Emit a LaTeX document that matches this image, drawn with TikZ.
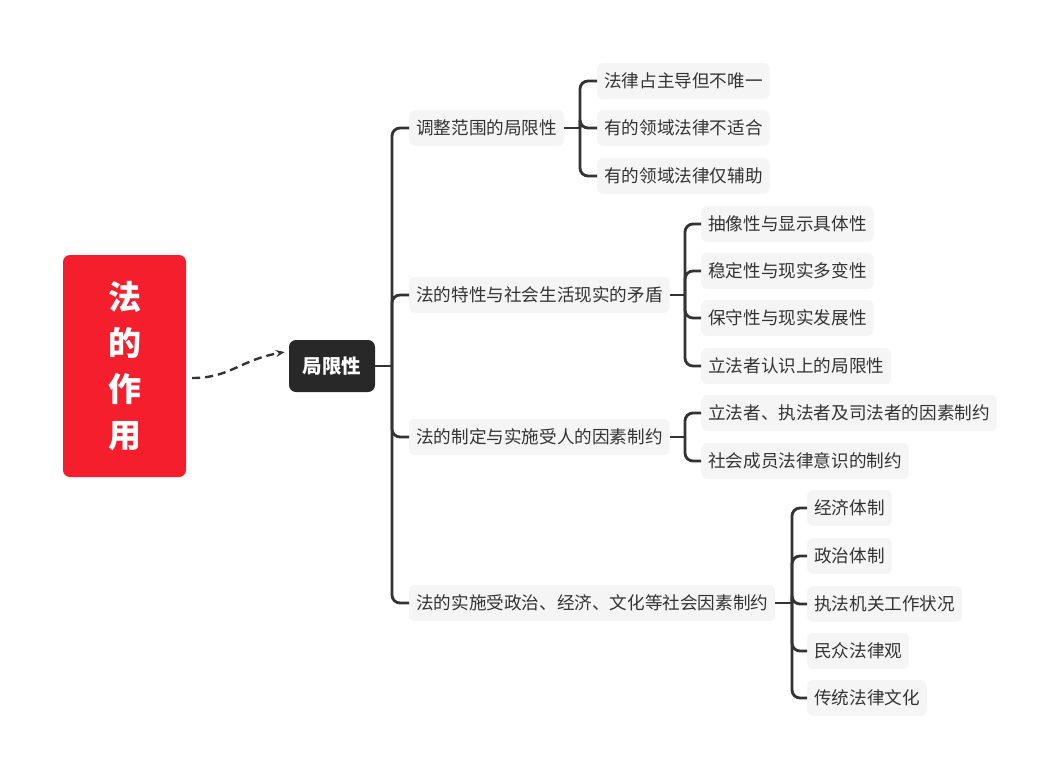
\documentclass[tikz,border=0pt]{standalone}
\usepackage{fontspec}
\setmainfont{Noto Sans CJK SC}
\usetikzlibrary{arrows.meta}
\definecolor{titleRed}{HTML}{F41E2C}
\definecolor{darkBox}{HTML}{282828}
\definecolor{paleGray}{HTML}{F5F5F5}
\definecolor{inkGray}{HTML}{333333}

\begin{document}
\begin{tikzpicture}[x=1pt,y=-1pt,
    topic/.style={fill=paleGray, rounded corners=6pt, anchor=west, inner xsep=7pt, minimum height=36pt, text=inkGray, font=\fontsize{17.6}{20}\selectfont},
    link/.style={draw=inkGray, line width=2.8pt, rounded corners=8pt}]
    \useasboundingbox (0,0) rectangle (1058,780);
    \node[fill=titleRed, rounded corners=7pt, minimum width=123pt, minimum height=222pt, text=white, align=center, font=\fontsize{33}{46}\selectfont\bfseries] (title) at (124.5,366) {法\\的\\作\\用};
    \node[fill=darkBox, rounded corners=7pt, minimum width=86pt, minimum height=52pt, text=white, font=\fontsize{19.5}{22}\selectfont\bfseries] (lim) at (332,366) {局限性};
    \draw[inkGray, line width=2.4pt, dash pattern=on 8pt off 5pt, -{Stealth[length=9pt,width=7pt]}] ([shift={(6,12)}]title.east) .. controls +(38,0) and +(-45,8) .. ([shift={(-4,-14)}]lim.west);

    \node[topic] (scope) at (409,128) {调整范围的局限性};
    \node[topic] (trait) at (409,295) {法的特性与社会生活现实的矛盾};
    \node[topic] (human) at (409,437) {法的制定与实施受人的因素制约};
    \node[topic] (social) at (409,603) {法的实施受政治、经济、文化等社会因素制约};

    \node[topic] (s1) at (597,81) {法律占主导但不唯一};
    \node[topic] (s2) at (597,128) {有的领域法律不适合};
    \node[topic] (s3) at (597,176) {有的领域法律仅辅助};

    \node[topic] (t1) at (701,224) {抽像性与显示具体性};
    \node[topic] (t2) at (701,271) {稳定性与现实多变性};
    \node[topic] (t3) at (701,318) {保守性与现实发展性};
    \node[topic] (t4) at (701,366) {立法者认识上的局限性};

    \node[topic] (h1) at (701,413) {立法者、执法者及司法者的因素制约};
    \node[topic] (h2) at (701,461) {社会成员法律意识的制约};

    \node[topic] (f1) at (807,508) {经济体制};
    \node[topic] (f2) at (807,556) {政治体制};
    \node[topic] (f3) at (807,604) {执法机关工作状况};
    \node[topic] (f4) at (807,651) {民众法律观};
    \node[topic] (f5) at (807,698) {传统法律文化};

    \coordinate (trunk) at (392,366);
    \draw[link] (lim.east) -- (trunk);
    \foreach \b in {scope,trait,human,social} \draw[link] (trunk) |- (\b.west);

    \coordinate (sj) at (580,128);
    \draw[link] (scope.east) -- (sj);
    \foreach \c in {s1,s2,s3} \draw[link] (sj) |- (\c.west);
    \coordinate (tj) at (685,295);
    \draw[link] (trait.east) -- (tj);
    \foreach \c in {t1,t2,t3,t4} \draw[link] (tj) |- (\c.west);
    \coordinate (hj) at (685,437);
    \draw[link] (human.east) -- (hj);
    \foreach \c in {h1,h2} \draw[link] (hj) |- (\c.west);
    \coordinate (fj) at (792,603);
    \draw[link] (social.east) -- (fj);
    \foreach \c in {f1,f2,f3,f4,f5} \draw[link] (fj) |- (\c.west);
\end{tikzpicture}
\end{document}
